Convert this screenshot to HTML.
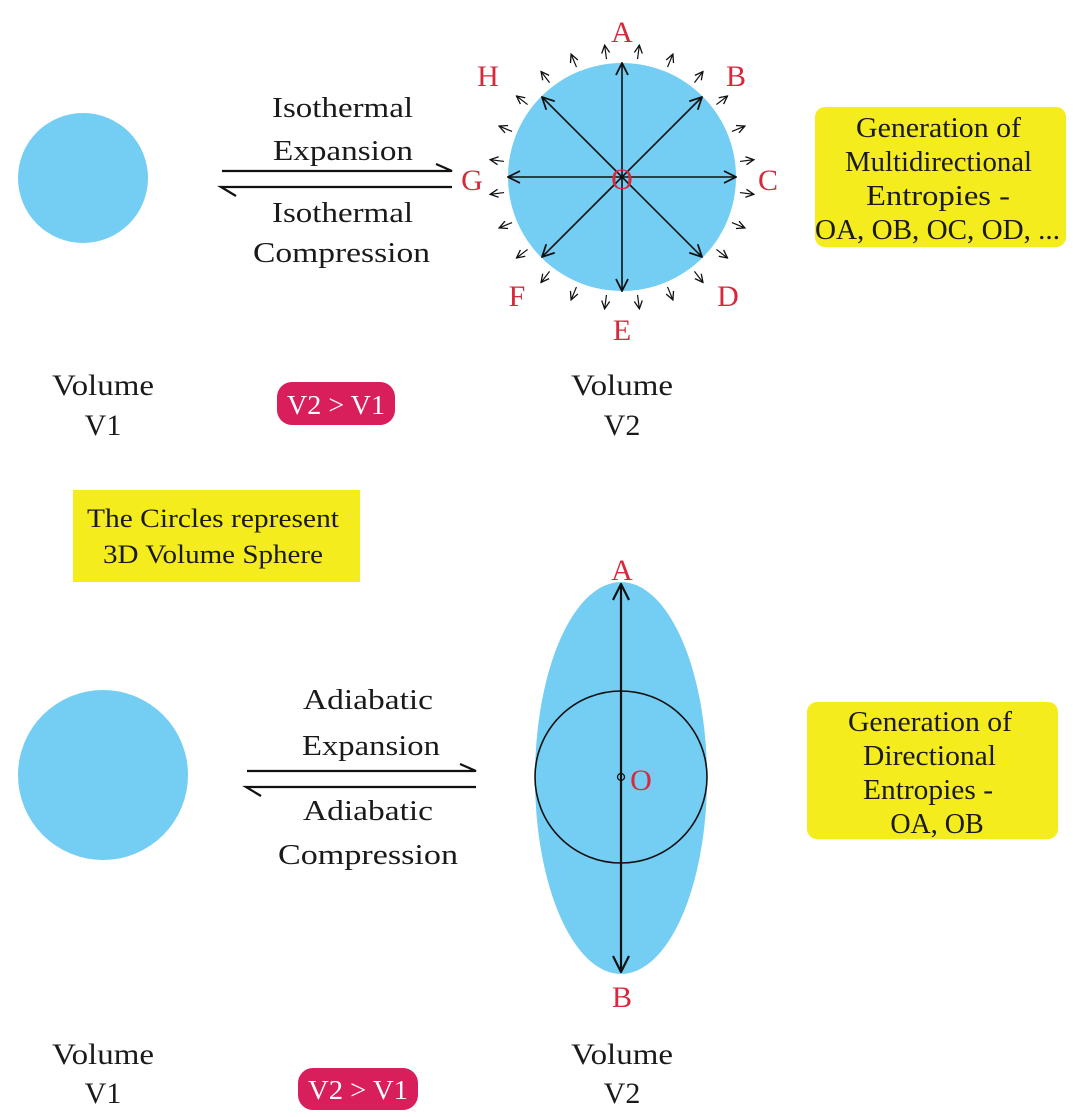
<!DOCTYPE html>
<html><head><meta charset="utf-8"><style>
html,body{margin:0;padding:0;background:#fff}
svg{display:block}
text{font-family:"Liberation Serif",serif}
</style></head><body>
<svg width="1073" height="1117" viewBox="0 0 1073 1117" xmlns="http://www.w3.org/2000/svg">
<defs>
<marker id="ah" viewBox="0 0 10 10" refX="9" refY="5" markerWidth="10" markerHeight="10" markerUnits="userSpaceOnUse" orient="auto">
<path d="M1,1 L9,5 L1,9" fill="none" stroke="#111" stroke-width="1.3"/>
</marker>
<marker id="ahb" viewBox="0 0 14 14" refX="13" refY="7" markerWidth="14" markerHeight="14" markerUnits="userSpaceOnUse" orient="auto">
<path d="M1,1 L13,7 L1,13" fill="none" stroke="#111" stroke-width="1.8"/>
</marker>
<marker id="ahc" viewBox="0 0 18 18" refX="17" refY="9" markerWidth="18" markerHeight="18" markerUnits="userSpaceOnUse" orient="auto">
<path d="M1,1 L17,9 L1,17" fill="none" stroke="#111" stroke-width="2.2"/>
</marker>
</defs>

<circle cx="83" cy="178" r="65" fill="#74cdf2"/>

<g font-size="29" fill="#1a1a1a">
<text x="272" y="117" textLength="141" lengthAdjust="spacingAndGlyphs">Isothermal</text>
<text x="273" y="160" textLength="140" lengthAdjust="spacingAndGlyphs">Expansion</text>
<text x="272" y="222" textLength="141" lengthAdjust="spacingAndGlyphs">Isothermal</text>
<text x="253" y="262" textLength="177" lengthAdjust="spacingAndGlyphs">Compression</text>
</g>
<path d="M222,171 L452,171 L436,164" fill="none" stroke="#111" stroke-width="2.2"/>
<path d="M452,187 L221,187 L236,196" fill="none" stroke="#111" stroke-width="2.2"/>

<circle cx="622" cy="177" r="114" fill="#74cdf2"/>
<g stroke="#111" stroke-width="1.6" marker-end="url(#ahb)">
<line x1="622" y1="177" x2="622" y2="63"/>
<line x1="622" y1="177" x2="622" y2="291"/>
<line x1="622" y1="177" x2="508" y2="177"/>
<line x1="622" y1="177" x2="736" y2="177"/>
<line x1="622" y1="177" x2="702" y2="97"/>
<line x1="622" y1="177" x2="542" y2="97"/>
<line x1="622" y1="177" x2="702" y2="257"/>
<line x1="622" y1="177" x2="542" y2="257"/>
</g>
<g stroke="#111" stroke-width="1.2" marker-end="url(#ah)">
<g transform="rotate(7.5 622 177)"><line x1="622" y1="58" x2="622" y2="44"/></g>
<g transform="rotate(22.5 622 177)"><line x1="622" y1="58" x2="622" y2="44"/></g>
<g transform="rotate(37.5 622 177)"><line x1="622" y1="58" x2="622" y2="44"/></g>
<g transform="rotate(52.5 622 177)"><line x1="622" y1="58" x2="622" y2="44"/></g>
<g transform="rotate(67.5 622 177)"><line x1="622" y1="58" x2="622" y2="44"/></g>
<g transform="rotate(82.5 622 177)"><line x1="622" y1="58" x2="622" y2="44"/></g>
<g transform="rotate(97.5 622 177)"><line x1="622" y1="58" x2="622" y2="44"/></g>
<g transform="rotate(112.5 622 177)"><line x1="622" y1="58" x2="622" y2="44"/></g>
<g transform="rotate(127.5 622 177)"><line x1="622" y1="58" x2="622" y2="44"/></g>
<g transform="rotate(142.5 622 177)"><line x1="622" y1="58" x2="622" y2="44"/></g>
<g transform="rotate(157.5 622 177)"><line x1="622" y1="58" x2="622" y2="44"/></g>
<g transform="rotate(172.5 622 177)"><line x1="622" y1="58" x2="622" y2="44"/></g>
<g transform="rotate(187.5 622 177)"><line x1="622" y1="58" x2="622" y2="44"/></g>
<g transform="rotate(202.5 622 177)"><line x1="622" y1="58" x2="622" y2="44"/></g>
<g transform="rotate(217.5 622 177)"><line x1="622" y1="58" x2="622" y2="44"/></g>
<g transform="rotate(232.5 622 177)"><line x1="622" y1="58" x2="622" y2="44"/></g>
<g transform="rotate(247.5 622 177)"><line x1="622" y1="58" x2="622" y2="44"/></g>
<g transform="rotate(262.5 622 177)"><line x1="622" y1="58" x2="622" y2="44"/></g>
<g transform="rotate(277.5 622 177)"><line x1="622" y1="58" x2="622" y2="44"/></g>
<g transform="rotate(292.5 622 177)"><line x1="622" y1="58" x2="622" y2="44"/></g>
<g transform="rotate(307.5 622 177)"><line x1="622" y1="58" x2="622" y2="44"/></g>
<g transform="rotate(322.5 622 177)"><line x1="622" y1="58" x2="622" y2="44"/></g>
<g transform="rotate(337.5 622 177)"><line x1="622" y1="58" x2="622" y2="44"/></g>
<g transform="rotate(352.5 622 177)"><line x1="622" y1="58" x2="622" y2="44"/></g>
</g>
<g font-size="30" fill="#d8283c" text-anchor="middle">
<text x="622" y="42">A</text>
<text x="736" y="86">B</text>
<text x="768" y="190">C</text>
<text x="728" y="306">D</text>
<text x="622" y="340">E</text>
<text x="517" y="306">F</text>
<text x="472" y="190">G</text>
<text x="488" y="86">H</text>
<text x="622" y="189">O</text>
</g>

<rect x="815" y="107" width="251" height="140" rx="10" fill="#f4ec1c"/>
<g font-size="28" fill="#1a1a1a">
<text x="856" y="137" textLength="165" lengthAdjust="spacingAndGlyphs">Generation of</text>
<text x="845" y="171" textLength="187" lengthAdjust="spacingAndGlyphs">Multidirectional</text>
<text x="866" y="205" textLength="144" lengthAdjust="spacingAndGlyphs">Entropies -</text>
<text x="815" y="239" textLength="245" lengthAdjust="spacingAndGlyphs">OA, OB, OC, OD, ...</text>
</g>

<g font-size="30" fill="#1a1a1a">
<text x="52" y="395" textLength="102" lengthAdjust="spacingAndGlyphs">Volume</text>
<text x="103" y="435" text-anchor="middle">V1</text>
<text x="571" y="395" textLength="102" lengthAdjust="spacingAndGlyphs">Volume</text>
<text x="622" y="435" text-anchor="middle">V2</text>
</g>
<rect x="277" y="382" width="118" height="43" rx="15" fill="#d81e5b"/>
<text x="287" y="414" font-size="27" fill="#fff" textLength="98" lengthAdjust="spacingAndGlyphs">V2 &gt; V1</text>

<rect x="73" y="490" width="287" height="92" fill="#f4ec1c"/>
<g font-size="26" fill="#1a1a1a">
<text x="87" y="527" textLength="252" lengthAdjust="spacingAndGlyphs">The Circles represent</text>
<text x="103" y="563" textLength="220" lengthAdjust="spacingAndGlyphs">3D Volume Sphere</text>
</g>

<circle cx="103" cy="775" r="85" fill="#74cdf2"/>
<g font-size="29" fill="#1a1a1a">
<text x="303" y="709" textLength="130" lengthAdjust="spacingAndGlyphs">Adiabatic</text>
<text x="302" y="755" textLength="138" lengthAdjust="spacingAndGlyphs">Expansion</text>
<text x="303" y="820" textLength="130" lengthAdjust="spacingAndGlyphs">Adiabatic</text>
<text x="278" y="864" textLength="180" lengthAdjust="spacingAndGlyphs">Compression</text>
</g>
<path d="M247,771 L476,771 L460,764" fill="none" stroke="#111" stroke-width="2.2"/>
<path d="M476,787 L246,787 L261,796" fill="none" stroke="#111" stroke-width="2.2"/>

<ellipse cx="621" cy="778" rx="86" ry="196" fill="#74cdf2"/>
<circle cx="621" cy="777" r="86" fill="none" stroke="#111" stroke-width="1.6"/>
<line x1="621" y1="777" x2="621" y2="584" stroke="#111" stroke-width="2.2" marker-end="url(#ahc)"/>
<line x1="621" y1="777" x2="621" y2="972" stroke="#111" stroke-width="2.2" marker-end="url(#ahc)"/>
<circle cx="621" cy="777" r="3.5" fill="none" stroke="#111" stroke-width="1.3"/>
<g font-size="30" fill="#d8283c" text-anchor="middle">
<text x="622" y="580">A</text>
<text x="622" y="1007">B</text>
<text x="641" y="790">O</text>
</g>

<rect x="807" y="702" width="251" height="137" rx="10" fill="#f4ec1c"/>
<g font-size="28" fill="#1a1a1a">
<text x="848" y="731" textLength="164" lengthAdjust="spacingAndGlyphs">Generation of</text>
<text x="863" y="765" textLength="133" lengthAdjust="spacingAndGlyphs">Directional</text>
<text x="863" y="799" textLength="130" lengthAdjust="spacingAndGlyphs">Entropies -</text>
<text x="937" y="833" text-anchor="middle">OA, OB</text>
</g>

<g font-size="30" fill="#1a1a1a">
<text x="52" y="1064" textLength="102" lengthAdjust="spacingAndGlyphs">Volume</text>
<text x="103" y="1103" text-anchor="middle">V1</text>
<text x="571" y="1064" textLength="102" lengthAdjust="spacingAndGlyphs">Volume</text>
<text x="622" y="1103" text-anchor="middle">V2</text>
</g>
<rect x="298" y="1068" width="120" height="42" rx="15" fill="#d81e5b"/>
<text x="308" y="1099" font-size="27" fill="#fff" textLength="100" lengthAdjust="spacingAndGlyphs">V2 &gt; V1</text>
</svg>
</body></html>
